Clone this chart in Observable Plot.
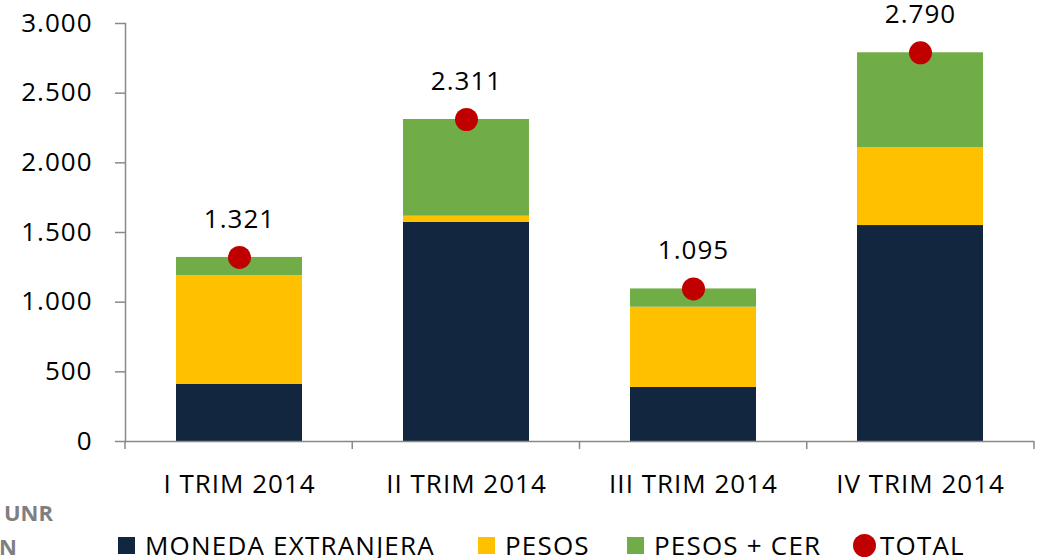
<!DOCTYPE html>
<html><head><meta charset="utf-8">
<script src="https://cdn.jsdelivr.net/npm/d3@7"></script>
<script src="https://cdn.jsdelivr.net/npm/@observablehq/plot@0.6"></script>
<style>
body{margin:0;background:#fff;font-family:"Open Sans",sans-serif;}
#wrap{position:relative;width:1045px;height:558px;overflow:hidden;background:#fff;}
#chart{position:absolute;left:0;top:0;}
#chart svg{overflow:visible;}
.src{position:absolute;font-weight:bold;color:#7f7f7f;font-size:22px;line-height:1;white-space:nowrap;text-align:right;}
.item{position:absolute;top:533px;height:24px;line-height:24px;display:flex;align-items:center;font-size:26px;letter-spacing:1.2px;color:#000;white-space:nowrap;}
.sw{width:17px;height:17px;margin-right:10px;flex:none;}
.sw.c{width:23px;height:23px;border-radius:50%;margin-right:4px;}
</style></head><body>
<div id="wrap"><div id="chart"></div><div id="legend"></div>
<div class="src" style="right:992px;top:501px;">UNR</div>
<div class="src" style="right:1028px;top:535px;">N</div>
</div>
<script>
const quarters = ["I TRIM 2014", "II TRIM 2014", "III TRIM 2014", "IV TRIM 2014"];
const series = ["MONEDA EXTRANJERA", "PESOS", "PESOS + CER"];
const moneda = [411, 1572, 388, 1550];
const pesos = [780, 45, 576, 560];
const cer = [130, 694, 131, 680];
const totals = [1321, 2311, 1095, 2790];
const totalLabels = ["1.321", "2.311", "1.095", "2.790"];
const yTicks = [0, 500, 1000, 1500, 2000, 2500, 3000];
const totalName = "TOTAL";
const colors = ["#12263f", "#ffc000", "#70ad47"];
const totalColor = "#c00000";
const axisColor = "#898989";

const rows = [];
quarters.forEach((q, i) => {
  rows.push({q, s: series[0], v: moneda[i]});
  rows.push({q, s: series[1], v: pesos[i]});
  rows.push({q, s: series[2], v: cer[i]});
});
const tot = quarters.map((q, i) => ({q, v: totals[i], label: totalLabels[i]}));

const loc = d3.formatLocale({decimal: ",", thousands: ".", grouping: [3], currency: ["", ""]});
const fmt = loc.format(",d");

// boundary ticks between categories (Excel style)
function boundaryTicks(index, scales, values, dims) {
  const n = scales.x.domain().length;
  const x0 = dims.marginLeft, x1 = dims.width - dims.marginRight;
  const yb = dims.height - dims.marginBottom;
  const g = d3.create("svg:g");
  for (let i = 0; i <= n; i++) {
    const xx = x0 + (x1 - x0) * i / n;
    g.append("line").attr("x1", xx).attr("x2", xx).attr("y1", yb).attr("y2", yb + 8)
      .attr("stroke", axisColor).attr("stroke-width", 1.5);
  }
  return g.node();
}

const chart = Plot.plot({
  width: 1045,
  height: 500,
  marginLeft: 125,
  marginRight: 11,
  marginTop: 23,
  marginBottom: 59,
  style: {fontFamily: "Open Sans, sans-serif", background: "transparent", letterSpacing: "1px"},
  x: {domain: quarters, paddingInner: 0.445, paddingOuter: 0.2225, label: null},
  y: {domain: [0, 3000], label: null},
  color: {domain: series, range: colors},
  marks: [
    Plot.barY(rows, {x: "q", y: "v", fill: "s"}),
    Plot.frame({anchor: "left", stroke: axisColor, strokeWidth: 1.5}),
    Plot.ruleY([0], {stroke: axisColor, strokeWidth: 1.5}),
    boundaryTicks,
    Plot.axisY({ticks: yTicks, tickFormat: fmt, tickSize: 10, tickPadding: 23, fontSize: 26, stroke: axisColor, fill: "#000", strokeWidth: 1.5, label: null}),
    Plot.axisX({tickSize: 0, tickPadding: 33, fontSize: 26, fill: "#000", label: null}),
    Plot.dot(tot, {x: "q", y: "v", r: 11.5, fill: totalColor}),
    Plot.text(tot, {x: "q", y: "v", text: "label", dy: -38, fontSize: 26, fill: "#000"})
  ]
});
document.getElementById("chart").appendChild(chart);

// legend
const legend = document.getElementById("legend");
const items = [
  {name: series[0], color: colors[0], left: 118},
  {name: series[1], color: colors[1], left: 478},
  {name: series[2], color: colors[2], left: 627},
  {name: totalName, color: totalColor, left: 853, circle: true}
];
items.forEach(it => {
  const d = document.createElement("div");
  d.className = "item";
  d.style.left = it.left + "px";
  const s = document.createElement("span");
  s.className = "sw" + (it.circle ? " c" : "");
  s.style.background = it.color;
  d.appendChild(s);
  d.appendChild(document.createTextNode(it.name));
  legend.appendChild(d);
});
</script>
</body></html>
